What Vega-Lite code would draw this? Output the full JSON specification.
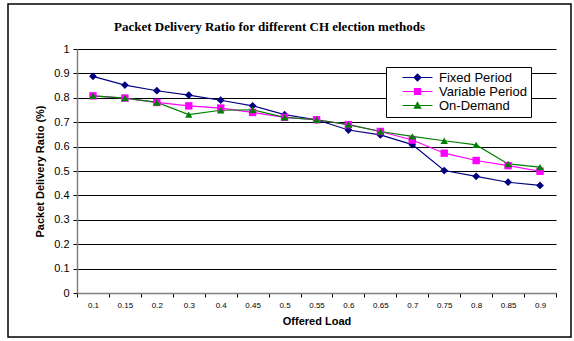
{
  "$schema": "https://vega.github.io/schema/vega-lite/v6.json",
  "autosize": {"type": "none"},
  "padding": {"left": 8, "top": 4, "right": 3, "bottom": 4},
  "width": 563,
  "height": 333,
  "background": "white",
  "config": {
    "view": {"stroke": "black", "strokeWidth": 1.5},
    "font": "Liberation Sans"
  },
  "title": {
    "text": "Packet Delivery Ratio for different CH election methods",
    "font": "Liberation Serif",
    "fontSize": 13,
    "fontWeight": "bold",
    "color": "black",
    "anchor": "middle",
    "frame": "group",
    "baseline": "alphabetic",
    "offset": -40,
    "dx": -20
  },
  "data": {
    "values": [
      {"load": "0.1", "series": "Fixed Period", "ratio": 0.888},
      {"load": "0.15", "series": "Fixed Period", "ratio": 0.852},
      {"load": "0.2", "series": "Fixed Period", "ratio": 0.829},
      {"load": "0.3", "series": "Fixed Period", "ratio": 0.811},
      {"load": "0.4", "series": "Fixed Period", "ratio": 0.79},
      {"load": "0.45", "series": "Fixed Period", "ratio": 0.767},
      {"load": "0.5", "series": "Fixed Period", "ratio": 0.731},
      {"load": "0.55", "series": "Fixed Period", "ratio": 0.71},
      {"load": "0.6", "series": "Fixed Period", "ratio": 0.668},
      {"load": "0.65", "series": "Fixed Period", "ratio": 0.648},
      {"load": "0.7", "series": "Fixed Period", "ratio": 0.608},
      {"load": "0.75", "series": "Fixed Period", "ratio": 0.502},
      {"load": "0.8", "series": "Fixed Period", "ratio": 0.478},
      {"load": "0.85", "series": "Fixed Period", "ratio": 0.454},
      {"load": "0.9", "series": "Fixed Period", "ratio": 0.441},
      {"load": "0.1", "series": "Variable Period", "ratio": 0.808},
      {"load": "0.15", "series": "Variable Period", "ratio": 0.799},
      {"load": "0.2", "series": "Variable Period", "ratio": 0.781},
      {"load": "0.3", "series": "Variable Period", "ratio": 0.767},
      {"load": "0.4", "series": "Variable Period", "ratio": 0.758},
      {"load": "0.45", "series": "Variable Period", "ratio": 0.74},
      {"load": "0.5", "series": "Variable Period", "ratio": 0.72},
      {"load": "0.55", "series": "Variable Period", "ratio": 0.71},
      {"load": "0.6", "series": "Variable Period", "ratio": 0.69},
      {"load": "0.65", "series": "Variable Period", "ratio": 0.662},
      {"load": "0.7", "series": "Variable Period", "ratio": 0.627},
      {"load": "0.75", "series": "Variable Period", "ratio": 0.573},
      {"load": "0.8", "series": "Variable Period", "ratio": 0.543},
      {"load": "0.85", "series": "Variable Period", "ratio": 0.522},
      {"load": "0.9", "series": "Variable Period", "ratio": 0.499},
      {"load": "0.1", "series": "On-Demand", "ratio": 0.808},
      {"load": "0.15", "series": "On-Demand", "ratio": 0.799},
      {"load": "0.2", "series": "On-Demand", "ratio": 0.781},
      {"load": "0.3", "series": "On-Demand", "ratio": 0.731},
      {"load": "0.4", "series": "On-Demand", "ratio": 0.749},
      {"load": "0.45", "series": "On-Demand", "ratio": 0.751},
      {"load": "0.5", "series": "On-Demand", "ratio": 0.72},
      {"load": "0.55", "series": "On-Demand", "ratio": 0.71},
      {"load": "0.6", "series": "On-Demand", "ratio": 0.69},
      {"load": "0.65", "series": "On-Demand", "ratio": 0.662},
      {"load": "0.7", "series": "On-Demand", "ratio": 0.642},
      {"load": "0.75", "series": "On-Demand", "ratio": 0.624},
      {"load": "0.8", "series": "On-Demand", "ratio": 0.607},
      {"load": "0.85", "series": "On-Demand", "ratio": 0.529},
      {"load": "0.9", "series": "On-Demand", "ratio": 0.516}
    ]
  },
  "encoding": {
    "x": {
      "field": "load",
      "type": "nominal",
      "sort": null,
      "scale": {"type": "band", "range": [69, 548], "paddingInner": 0, "paddingOuter": 0},
      "axis": {
        "title": "Offered Load",
        "titleFontSize": 11,
        "titleFontWeight": "bold",
        "titleColor": "black",
        "titlePadding": 6,
        "labelAngle": 0,
        "labelFontSize": 8,
        "labelColor": "black",
        "labelPadding": 4,
        "tickBand": "extent",
        "tickSize": 4,
        "tickColor": "black",
        "domainColor": "#808080",
        "domainWidth": 1.5,
        "offset": -44,
        "grid": false
      }
    },
    "y": {
      "field": "ratio",
      "type": "quantitative",
      "scale": {"domain": [0, 1], "range": [289, 45], "nice": false, "zero": true},
      "axis": {
        "title": "Packet Delivery Ratio (%)",
        "titleFontSize": 11,
        "titleFontWeight": "bold",
        "titleColor": "black",
        "titlePadding": 8,
        "values": [0, 0.1, 0.2, 0.3, 0.4, 0.5, 0.6, 0.7, 0.8, 0.9, 1],
        "format": "~g",
        "labelFontSize": 11,
        "labelColor": "black",
        "labelPadding": 4,
        "tickSize": 4,
        "tickColor": "black",
        "domainColor": "#808080",
        "domainWidth": 1.5,
        "grid": true,
        "gridColor": "black",
        "gridWidth": 1,
        "offset": -69
      }
    },
    "color": {
      "field": "series",
      "type": "nominal",
      "scale": {
        "domain": ["Fixed Period", "Variable Period", "On-Demand"],
        "range": ["#000080", "#FF00FF", "#008000"]
      },
      "legend": {
        "orient": "none",
        "legendX": 378,
        "legendY": 63,
        "title": null,
        "strokeColor": "black",
        "fillColor": "white",
        "padding": 4,
        "labelFontSize": 13,
        "labelColor": "black",
        "labelFont": "Liberation Sans",
        "symbolSize": 144,
        "symbolOffset": 21,
        "labelOffset": 15,
        "rowPadding": 0,
        "symbolStrokeWidth": 0,
        "encode": {
          "symbols": {
            "update": {
              "shape": {"signal": "datum.value === 'Fixed Period' ? 'M-2.5,-0.09H2.5V0.09H-2.5Z M0,-0.7L0.7,0L0,0.7L-0.7,0Z' : datum.value === 'Variable Period' ? 'M-2.5,-0.09H2.5V0.09H-2.5Z M-0.6,-0.6H0.6V0.6H-0.6Z' : 'M-2.5,-0.09H2.5V0.09H-2.5Z M0,-0.7L0.7,0.55L-0.7,0.55Z'"},
              "strokeWidth": {"value": 0},
              "fillOpacity": {"value": 1}
            }
          }
        }
      }
    }
  },
  "layer": [
    {
      "mark": {"type": "line", "strokeWidth": 1.2},
      "encoding": {}
    },
    {
      "transform": [{"filter": "datum.series === 'Fixed Period'"}],
      "mark": {"type": "point", "filled": true, "opacity": 1, "size": 60, "shape": "diamond"},
      "encoding": {}
    },
    {
      "transform": [{"filter": "datum.series === 'Variable Period'"}],
      "mark": {"type": "point", "filled": true, "opacity": 1, "size": 55, "shape": "square"},
      "encoding": {}
    },
    {
      "transform": [{"filter": "datum.series === 'On-Demand'"}],
      "mark": {"type": "point", "filled": true, "opacity": 1, "size": 55, "shape": "triangle-up"},
      "encoding": {}
    }
  ]
}
